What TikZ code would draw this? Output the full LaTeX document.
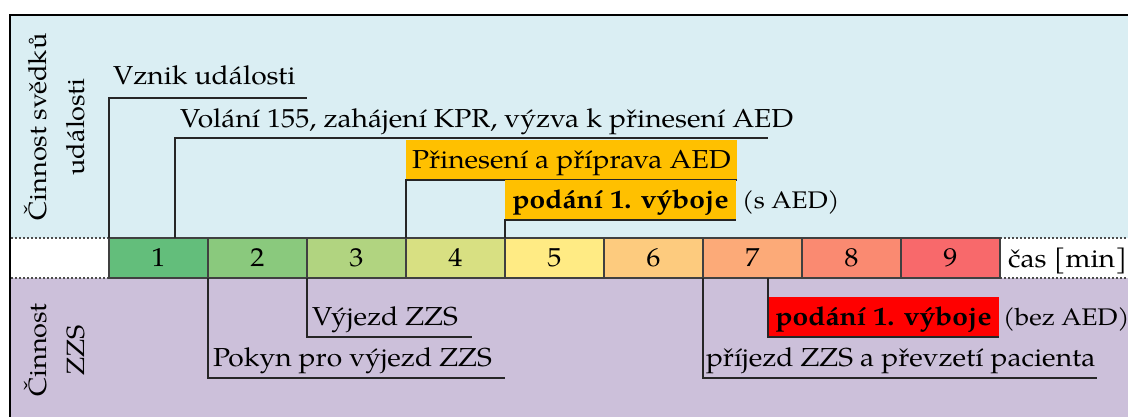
\documentclass[tikz,border=0pt]{standalone}
\usepackage{fontspec}
\setmainfont{texgyrepagella}[Extension=.otf, UprightFont=*-regular, BoldFont=*-bold, ItalicFont=*-italic, BoldItalicFont=*-bolditalic, FakeStretch=1.085]

\definecolor{skyfill}{HTML}{DAEEF3}
\definecolor{lilac}{HTML}{CCC0DA}
\definecolor{amber}{HTML}{FFC000}
\definecolor{alarm}{HTML}{FF0000}
\definecolor{m1}{HTML}{63BE7B}
\definecolor{m2}{HTML}{8AC97D}
\definecolor{m3}{HTML}{B1D480}
\definecolor{m4}{HTML}{D8E082}
\definecolor{m5}{HTML}{FFEB84}
\definecolor{m6}{HTML}{FDCB7E}
\definecolor{m7}{HTML}{FCAA78}
\definecolor{m8}{HTML}{FA8A71}
\definecolor{m9}{HTML}{F8696B}

\tikzset{
  txt/.style={font=\fontsize{26}{30}\selectfont},
  cell/.style={txt, draw=black!75, line width=1.3pt, minimum width=99pt,
    minimum height=40pt, inner sep=0pt, outer sep=0pt},
  lbl/.style={txt, anchor=base west, inner sep=0pt, outer sep=0pt},
  note/.style={lbl, font=\fontsize{24}{30}\selectfont},
  hilite/.style={txt, anchor=south west, inner xsep=6pt, inner ysep=0pt,
    outer sep=0pt, text height=28pt, text depth=12pt, minimum height=40pt},
  link/.style={draw=black!85, line width=1.2pt},
  dots/.style={draw=black!70, line width=1.2pt, dash pattern=on 2pt off 2pt},
  side/.style={rotate=90, align=center, inner sep=0pt,
    font=\fontsize{25}{38}\selectfont},
}

\begin{document}
\begin{tikzpicture}[x=1pt, y=-1pt]
\useasboundingbox (0,0) rectangle (1128,417);

% panels: witnesses above, rescue service below
\fill[skyfill] (10,15) rectangle (1128,238);
\fill[lilac] (10,278) rectangle (1128,417);
\draw[line width=2.2pt] (1128,15) -- (10,15) -- (10,417);

% white time row edges
\draw[dots] (11,238) -- (109,238);
\draw[dots] (11,278) -- (109,278);
\draw[dots] (1000,238) -- (1128,238);
\draw[dots] (1000,278) -- (1128,278);

% time scale in minutes
\foreach \i in {1,...,9}
  \node[cell, fill=m\i] (t\i) at ({109+99*(\i-1)+49.5},258) {\i};
\node[lbl] (unit) at (1008,267) {čas [min]};

% side captions
\node[side] (wit) at (55,127) {Činnost svědků\\události};
\node[side] (ems) at (55,350) {Činnost\\ZZS};

% witness actions
\node[lbl] (vznik) at (113,85) {Vznik události};
\coordinate (vznikEnd) at (307,98);
\draw[link] (t1.north west) |- (vznikEnd);

\node[lbl] (volani) at (180,128) {Volání 155, zahájení KPR, výzva k přinesení AED};
\coordinate (volFoot) at (175,238);
\coordinate (volEnd) at (768,138);
\draw[link] (volFoot) |- (volEnd);

\node[hilite, fill=amber, minimum width=330pt] (bring) at (406,180) {Přinesení a příprava AED};
\draw[link] (t4.north west) |- (bring.south east);

\node[hilite, fill=amber, minimum width=231pt] (shockA) at (505,220) {\textbf{podání 1. výboje}};
\draw[link] (t5.north west) |- (shockA.south east);
\node[note] (withAED) at (742,208) {(s AED)};

% rescue service actions
\node[lbl] (vyjezd) at (312,325) {Výjezd ZZS};
\coordinate (vyjezdEnd) at (472,337);
\draw[link] (t3.south west) |- (vyjezdEnd);

\node[lbl] (pokyn) at (213,366) {Pokyn pro výjezd ZZS};
\coordinate (pokynEnd) at (505,378);
\draw[link] (t2.south west) |- (pokynEnd);

\node[hilite, fill=alarm, minimum width=231pt] (shockB) at (768,337) {\textbf{podání 1. výboje}};
\draw[link] (shockB.south west |- t7.south) -- (shockB.south west) -- (shockB.south east);
\node[note] (noAED) at (1003,325) {(bez AED)};

\node[lbl] (prijezd) at (706,366) {příjezd ZZS a převzetí pacienta};
\coordinate (prijezdEnd) at (1097,378);
\draw[link] (t7.south west) |- (prijezdEnd);
\end{tikzpicture}
\end{document}
